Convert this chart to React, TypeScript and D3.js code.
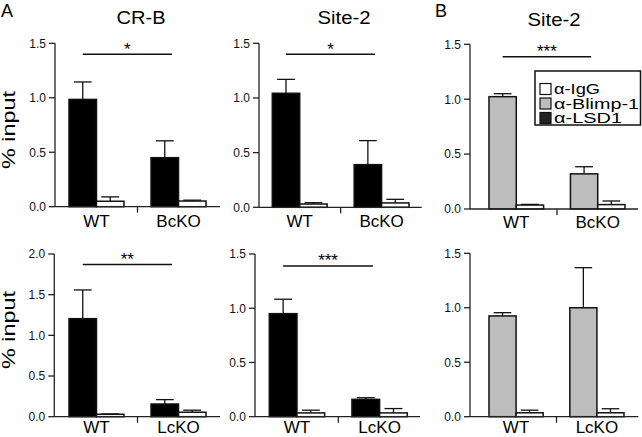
import React from "react";
import * as d3 from "d3";

// ---------- data ----------
const antibodies = ["α-IgG", "α-Blimp-1", "α-LSD1"];
const groupsB = ["WT", "BcKO"];
const groupsL = ["WT", "LcKO"];

// CR-B, BcKO (α-LSD1 vs α-IgG)
const crbB_spec = [0.985, 0.45];
const crbB_specErr = [0.16, 0.155];
const crbB_igg = [0.05, 0.052];
const crbB_iggErr = [0.04, 0.008];

// Site-2, BcKO (α-LSD1)
const s2B_spec = [1.043, 0.39];
const s2B_specErr = [0.127, 0.22];
const s2B_igg = [0.03, 0.04];
const s2B_iggErr = [0.012, 0.033];

// Site-2, BcKO (α-Blimp-1)
const s2Bb_spec = [1.023, 0.32];
const s2Bb_specErr = [0.027, 0.065];
const s2Bb_igg = [0.036, 0.04];
const s2Bb_iggErr = [0.006, 0.033];

// CR-B, LcKO (α-LSD1)
const crbL_spec = [1.205, 0.156];
const crbL_specErr = [0.353, 0.054];
const crbL_igg = [0.03, 0.055];
const crbL_iggErr = [0.003, 0.025];

// Site-2, LcKO (α-LSD1)
const s2L_spec = [0.95, 0.16];
const s2L_specErr = [0.133, 0.015];
const s2L_igg = [0.035, 0.035];
const s2L_iggErr = [0.025, 0.04];

// Site-2, LcKO (α-Blimp-1)
const s2Lb_spec = [0.925, 1.0];
const s2Lb_specErr = [0.03, 0.368];
const s2Lb_igg = [0.036, 0.036];
const s2Lb_iggErr = [0.024, 0.037];

const ticks15 = [0, 0.5, 1.0, 1.5];
const ticks20 = [0, 0.5, 1.0, 1.5, 2.0];

// ---------- layout ----------
const FONT = "'Liberation Sans', Arial, Helvetica, sans-serif";
const BLACK = "#000";
const GRAY = "#bdbdbd";

const panels = [
  { title: "CR-B", titleX: 141, titleY: 24, titleLen: 49, groups: groupsB, spec: crbB_spec, specErr: crbB_specErr, igg: crbB_igg, iggErr: crbB_iggErr, fill: BLACK, yMax: 1.5, ticks: ticks15, sig: "*", sigAt: 1.4, axisX: [55, 220], band: [69, 206], y: [206.7, 43.3], labelY: 227 },
  { title: "Site-2", titleX: 344, titleY: 24, titleLen: 53, groups: groupsB, spec: s2B_spec, specErr: s2B_specErr, igg: s2B_igg, iggErr: s2B_iggErr, fill: BLACK, yMax: 1.5, ticks: ticks15, sig: "*", sigAt: 1.4, axisX: [259, 421.7], band: [272.3, 409], y: [207.3, 43.3], labelY: 227 },
  { title: "Site-2", titleX: 554, titleY: 26, titleLen: 53, groups: groupsB, spec: s2Bb_spec, specErr: s2Bb_specErr, igg: s2Bb_igg, iggErr: s2Bb_iggErr, fill: GRAY, yMax: 1.5, ticks: ticks15, sig: "***", sigAt: 1.387, axisX: [470, 638], band: [489, 625], y: [209, 44.3], labelY: 228 },
  { title: null, groups: groupsL, spec: crbL_spec, specErr: crbL_specErr, igg: crbL_igg, iggErr: crbL_iggErr, fill: BLACK, yMax: 2.0, ticks: ticks20, sig: "**", sigAt: 1.87, axisX: [54.3, 220], band: [69, 206], y: [416.7, 254], labelY: 433 },
  { title: null, groups: groupsL, spec: s2L_spec, specErr: s2L_specErr, igg: s2L_igg, iggErr: s2L_iggErr, fill: BLACK, yMax: 1.5, ticks: ticks15, sig: "***", sigAt: 1.39, axisX: [255, 420], band: [269.3, 407.3], y: [416.7, 254], labelY: 433 },
  { title: null, groups: groupsL, spec: s2Lb_spec, specErr: s2Lb_specErr, igg: s2Lb_igg, iggErr: s2Lb_iggErr, fill: GRAY, yMax: 1.5, ticks: ticks15, sig: null, sigAt: 0, axisX: [470, 638.3], band: [489, 624], y: [416.7, 253.3], labelY: 433 },
];

function Panel({ p }: { p: any }) {
  const y = d3.scaleLinear().domain([0, p.yMax]).range(p.y);
  const xg = d3.scaleBand().domain(p.groups).range(p.band).paddingInner(0.33).paddingOuter(0);
  const bw = xg.bandwidth();
  const xb = d3.scaleBand().domain(["spec", "igg"]).range([0, bw]).padding(0);
  const barW = xb.bandwidth();
  const capW = barW * 0.65;
  const axisY = y(0);
  const bars: any[] = [];
  p.groups.forEach((g: string, i: number) => {
    bars.push({ g, k: "spec", v: p.spec[i], e: p.specErr[i], fill: p.fill });
    bars.push({ g, k: "igg", v: p.igg[i], e: p.iggErr[i], fill: "#fff" });
  });
  const divX = ((xg(p.groups[0]) as number) + bw + (xg(p.groups[1]) as number)) / 2;
  const sigX1 = (xg(p.groups[0]) as number) + bw * 0.25;
  const sigX2 = (xg(p.groups[1]) as number) + bw * 0.38;
  return (
    <g>
      {p.title && (
        <text x={p.titleX} y={p.titleY} textAnchor="middle" fontSize={18} textLength={p.titleLen} lengthAdjust="spacingAndGlyphs" fontFamily={FONT}>{p.title}</text>
      )}
      {/* y axis */}
      <line x1={p.axisX[0]} x2={p.axisX[0]} y1={y(p.yMax)} y2={axisY} stroke="#222" strokeWidth={1.3} />
      {p.ticks.map((t: number) => (
        <g key={t}>
          <line x1={p.axisX[0] - 6} x2={p.axisX[0]} y1={y(t)} y2={y(t)} stroke="#222" strokeWidth={1.3} />
          <text x={p.axisX[0] - 9} y={y(t)} dy="0.36em" textAnchor="end" fontSize={12} fontFamily={FONT} fill="#111">{d3.format(".1f")(t)}</text>
        </g>
      ))}
      {/* bars */}
      {bars.map((b, i) => {
        const x0 = (xg(b.g) as number) + (xb(b.k) as number);
        const cx = x0 + barW / 2;
        const top = y(b.v + b.e);
        return (
          <g key={i}>
            <line x1={cx} x2={cx} y1={y(b.v)} y2={top} stroke="#111" strokeWidth={1.3} />
            <line x1={cx - capW / 2} x2={cx + capW / 2} y1={top} y2={top} stroke="#111" strokeWidth={1.3} />
            <rect x={x0} y={y(b.v)} width={barW} height={axisY - y(b.v)} fill={b.fill} stroke="#111" strokeWidth={1.5} />
          </g>
        );
      })}
      {/* x axis */}
      <line x1={p.axisX[0]} x2={p.axisX[1]} y1={axisY} y2={axisY} stroke="#222" strokeWidth={1.3} />
      <line x1={divX} x2={divX} y1={axisY} y2={axisY + 6} stroke="#222" strokeWidth={1.3} />
      {p.groups.map((g: string) => (
        <text key={g} x={(xg(g) as number) + bw / 2} y={p.labelY} textAnchor="middle" fontSize={17} fontFamily={FONT}>{g}</text>
      ))}
      {p.sig && (
        <g>
          <line x1={sigX1} x2={sigX2} y1={y(p.sigAt)} y2={y(p.sigAt)} stroke="#111" strokeWidth={1.5} />
          <text x={(sigX1 + sigX2) / 2} y={y(p.sigAt) + 0.5} textAnchor="middle" fontSize={17} fontFamily={FONT}>{p.sig}</text>
        </g>
      )}
    </g>
  );
}

const legendFills = ["#fff", GRAY, "#222"];
const legendLens = [46, 85, 68];

export default function App() {
  return (
    <svg width={642} height={437} style={{ position: "absolute", left: 0, top: 0, background: "#fff" }}>
      <rect width={642} height={437} fill="#fff" />
      <text x={1} y={17} fontSize={18} fontFamily={FONT}>A</text>
      <text x={435} y={17} fontSize={18} fontFamily={FONT}>B</text>
      <text transform="translate(15,130) rotate(-90)" textAnchor="middle" fontSize={18} textLength={78} lengthAdjust="spacingAndGlyphs" fontFamily={FONT}>% input</text>
      <text transform="translate(15,330) rotate(-90)" textAnchor="middle" fontSize={18} textLength={78} lengthAdjust="spacingAndGlyphs" fontFamily={FONT}>% input</text>
      {panels.map((p, i) => <Panel key={i} p={p} />)}
      {/* legend */}
      <g>
        <rect x={535} y={71} width={105.5} height={54} fill="#fff" stroke="#111" strokeWidth={1.5} />
        {antibodies.map((a, i) => {
          const cy = 89 + i * 14.5;
          return (
            <g key={a}>
              <rect x={540} y={cy - 5.5} width={11} height={11} fill={legendFills[i]} stroke="#111" strokeWidth={1.2} />
              <text x={554} y={cy} dy="0.36em" fontSize={14} textLength={legendLens[i]} lengthAdjust="spacingAndGlyphs" fontFamily={FONT}>{a}</text>
            </g>
          );
        })}
      </g>
    </svg>
  );
}
